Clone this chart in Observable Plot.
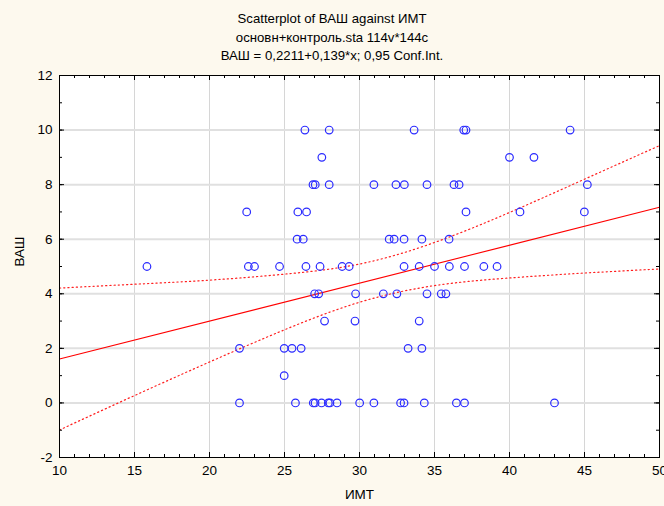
<!DOCTYPE html>
<html><head><meta charset="utf-8">
<script src="https://cdn.jsdelivr.net/npm/d3@7"></script>
<script src="https://cdn.jsdelivr.net/npm/@observablehq/plot@0.6"></script>
<style>
html,body{margin:0;padding:0;background:#fdf9ee;}
#wrap{position:relative;width:664px;height:506px;font-family:"Liberation Sans",Arial,sans-serif;overflow:hidden;}
#title{position:absolute;left:0;top:10px;width:664px;text-align:center;font-size:13.2px;line-height:18.5px;color:#000;}
#chart{position:absolute;left:0;top:0;}
</style></head><body>
<div id="wrap"><div id="chart"></div>
<div id="title">Scatterplot of ВАШ against ИМТ<br>основн+контроль.sta 114v*144c<br>ВАШ = 0,2211+0,139*x; 0,95 Conf.Int.</div>
</div>
<script>
// ИМТ (x) values grouped by ВАШ rows
const bmi = [
  26.36, 27.98, 33.64, 36.95, 37.1, 44.04,
  27.49, 40.0, 41.63,
  26.9, 27.05, 27.98, 30.96, 32.43, 32.99, 34.5, 36.3, 36.64, 45.19,
  22.48, 25.89, 26.47, 37.1, 40.7, 44.99,
  25.84, 26.25, 31.98, 32.31, 32.97, 34.16, 35.97,
  15.83, 22.59, 23.0, 24.67, 26.43, 27.37, 28.84, 29.31, 32.97, 33.98, 35.0, 35.99, 37.0, 38.29, 39.17,
  27.01, 27.28, 29.74, 31.59, 32.49, 34.5, 35.45, 35.76,
  27.67, 29.70, 33.98,
  22.0, 24.98, 25.5, 26.11, 33.24, 34.16,
  24.98,
  22.0, 25.73, 26.92, 27.04, 27.47, 27.92, 28.03, 28.5, 30.01, 30.96, 32.74, 32.97, 34.32, 36.46, 37.0, 43.0
];
const vas = [
  10, 10, 10, 10, 10, 10,
  9, 9, 9,
  8, 8, 8, 8, 8, 8, 8, 8, 8, 8,
  7, 7, 7, 7, 7, 7,
  6, 6, 6, 6, 6, 6, 6,
  5, 5, 5, 5, 5, 5, 5, 5, 5, 5, 5, 5, 5, 5, 5,
  4, 4, 4, 4, 4, 4, 4, 4,
  3, 3, 3,
  2, 2, 2, 2, 2, 2,
  1,
  0, 0, 0, 0, 0, 0, 0, 0, 0, 0, 0, 0, 0, 0, 0, 0
];
// regression line endpoints
const fitX = [10, 50];
const fitY = [1.61, 7.17];
// 0.95 confidence band
const bandX = [10, 15, 20, 25, 30, 35, 40, 45, 50];
const bandUpper = [4.21, 4.35, 4.50, 4.72, 5.09, 5.88, 6.98, 8.20, 9.43];
const bandLower = [-0.99, 0.27, 1.50, 2.68, 3.69, 4.30, 4.58, 4.76, 4.91];
// ticks
const xTicks = [10, 15, 20, 25, 30, 35, 40, 45, 50];
const yTicks = [-2, 0, 2, 4, 6, 8, 10, 12];
const xMinor = d3.range(10, 51, 1);
const yMinor = d3.range(-2, 13, 1);

const W = 664, H = 506, mL = 59, mR = 5, mT = 75, mB = 49;
const plotW = W - mL - mR, plotH = H - mT - mB;

const pts = bmi.map((x, i) => ({x, y: vas[i]}));
const fit = fitX.map((x, i) => ({x, y: fitY[i]}));
const up = bandX.map((x, i) => ({x, y: bandUpper[i]}));
const lo = bandX.map((x, i) => ({x, y: bandLower[i]}));

const chart = Plot.plot({
  width: W, height: H,
  marginLeft: mL, marginRight: mR, marginTop: mT, marginBottom: mB,
  style: {background: "transparent", fontFamily: "'Liberation Sans', Arial, sans-serif", fontSize: "13px", color: "#000"},
  x: {domain: [10, 50]},
  y: {domain: [-2, 12]},
  marks: [
    Plot.frame({fill: "white", stroke: null}),
    Plot.ruleX(xTicks.slice(1, -1), {stroke: "#d6d6d6", strokeWidth: 1}),
    Plot.ruleY(yTicks.slice(1, -1), {stroke: "#e0e0e0", strokeWidth: 2}),
    Plot.line(up, {x: "x", y: "y", curve: "natural", stroke: "#ff2020", strokeWidth: 1.2, strokeDasharray: "1.2,3"}),
    Plot.line(lo, {x: "x", y: "y", curve: "natural", stroke: "#ff2020", strokeWidth: 1.2, strokeDasharray: "1.2,3"}),
    Plot.line(fit, {x: "x", y: "y", stroke: "#ff0000", strokeWidth: 1.1}),
    Plot.dot(pts, {x: "x", y: "y", r: 3.8, stroke: "#2b2bff", strokeWidth: 1.2, fill: "none"}),
    // inside ticks
    Plot.ruleX(xMinor, {insetTop: plotH - 3, stroke: "#000"}),
    Plot.ruleX(xTicks, {insetTop: plotH - 5, stroke: "#000"}),
    Plot.ruleX(xMinor, {insetBottom: plotH - 3, stroke: "#000"}),
    Plot.ruleX(xTicks, {insetBottom: plotH - 5, stroke: "#000"}),
    Plot.ruleY(yMinor, {insetRight: plotW - 3, stroke: "#000"}),
    Plot.ruleY(yTicks, {insetRight: plotW - 5, stroke: "#000"}),
    Plot.ruleY(yMinor, {insetLeft: plotW - 3, stroke: "#000"}),
    Plot.ruleY(yTicks, {insetLeft: plotW - 5, stroke: "#000"}),
    Plot.frame({stroke: "#000", strokeWidth: 1}),
    Plot.axisX({ticks: xTicks, tickSize: 0, tickPadding: 8, label: null, fontSize: 13.5, tickFormat: d => String(d)}),
    Plot.axisY({ticks: yTicks, tickSize: 0, tickPadding: 7, label: null, fontSize: 13.5, tickFormat: d => String(d)}),
    Plot.text(["ИМТ"], {frameAnchor: "bottom", dy: 41, fontSize: 13.5}),
    Plot.text(["ВАШ"], {frameAnchor: "left", dx: -40, rotate: -90, fontSize: 13.5})
  ]
});
document.getElementById("chart").appendChild(chart);
</script>
</body></html>
